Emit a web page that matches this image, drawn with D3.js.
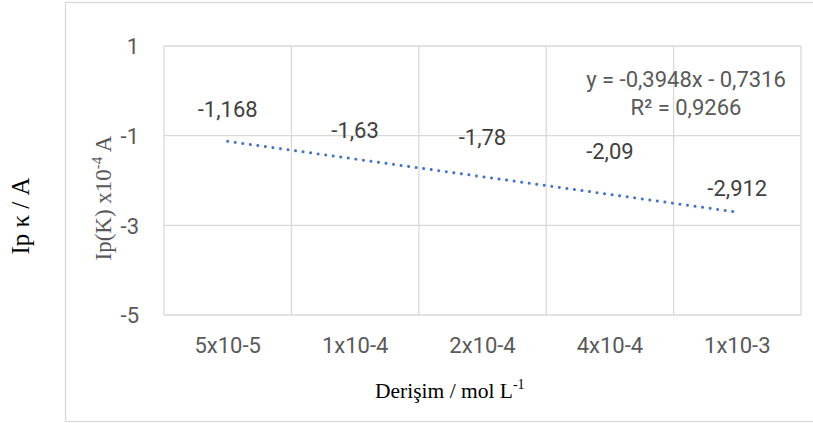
<!DOCTYPE html>
<html>
<head>
<meta charset="utf-8">
<script src="https://cdn.jsdelivr.net/npm/d3@7"></script>
<style>
  html, body { margin: 0; padding: 0; background: #fff; }
  svg { display: block; }
</style>
</head>
<body>
<svg id="chart" width="813" height="423"></svg>
<script>
// Concentration categories and measured peak currents (x10^-4 A)
const categories = ["5x10-5", "1x10-4", "2x10-4", "4x10-4", "1x10-3"];
const peakCurrent = [-1.168, -1.63, -1.78, -2.09, -2.912];
const labelText = ["-1,168", "-1,63", "-1,78", "-2,09", "-2,912"];
const yTicks = [1, -1, -3, -5];

const svg = d3.select("#chart");
const plot = { left: 164, right: 801, top: 46, bottom: 315 };

const gridColor = "#d9d9d9";
const sans = "Roboto, 'Noto Sans', sans-serif";
const serif = "'Liberation Serif', 'Times New Roman', serif";

// Outer chart frame
svg.append("rect")
  .attr("x", 65.5).attr("y", 2.5)
  .attr("width", 800).attr("height", 419)
  .attr("fill", "none").attr("stroke", gridColor).attr("stroke-width", 1.3);

const x = d3.scaleBand().domain(categories).range([plot.left, plot.right]).padding(0);
const y = d3.scaleLinear().domain([-5, 1]).range([plot.bottom, plot.top]);

// Horizontal gridlines
svg.append("g").selectAll("line").data(yTicks).join("line")
  .attr("x1", plot.left).attr("x2", plot.right)
  .attr("y1", d => y(d)).attr("y2", d => y(d))
  .attr("stroke", gridColor).attr("stroke-width", 1.3);

// Vertical gridlines at category boundaries
const bounds = categories.map(c => x(c)).concat([plot.right]);
svg.append("g").selectAll("line").data(bounds).join("line")
  .attr("x1", d => d).attr("x2", d => d)
  .attr("y1", plot.top).attr("y2", plot.bottom)
  .attr("stroke", gridColor).attr("stroke-width", 1.3);

// Y axis tick labels
const yAxis = d3.axisLeft(y).tickValues(yTicks).tickSize(0).tickPadding(0)
  .tickFormat(d => String(d));
const gy = svg.append("g").attr("transform", `translate(139,0)`).call(yAxis);
gy.select(".domain").remove();
gy.selectAll("text")
  .attr("font-family", sans).attr("font-size", 22).attr("fill", "#595959")
  .attr("dy", "0.36em");

// X axis category labels
const xAxis = d3.axisBottom(x).tickSize(0).tickPadding(0);
const gx = svg.append("g").attr("transform", `translate(0,${plot.bottom})`).call(xAxis);
gx.select(".domain").remove();
gx.selectAll("text")
  .attr("font-family", sans).attr("font-size", 22).attr("fill", "#595959")
  .attr("dy", null).attr("y", 37.5);

// Linear trendline from least squares over category index 1..n
const xs = peakCurrent.map((_, i) => i + 1);
const mx = d3.mean(xs), my = d3.mean(peakCurrent);
const slope = d3.sum(xs, (v, i) => (v - mx) * (peakCurrent[i] - my)) / d3.sum(xs, v => (v - mx) ** 2);
const intercept = my - slope * mx;
const ssRes = d3.sum(xs, (v, i) => (peakCurrent[i] - (slope * v + intercept)) ** 2);
const ssTot = d3.sum(peakCurrent, v => (v - my) ** 2);
const r2 = 1 - ssRes / ssTot;

const xc = i => x(categories[i]) + x.bandwidth() / 2;
const trend = [0, categories.length - 1].map(i => [xc(i), y(slope * (i + 1) + intercept)]);
svg.append("path")
  .attr("d", d3.line()(trend))
  .attr("fill", "none").attr("stroke", "#4472c4")
  .attr("stroke-width", 3).attr("stroke-linecap", "round")
  .attr("stroke-dasharray", "0.01 7.6");

// Data labels above each point
svg.append("g").selectAll("text").data(peakCurrent).join("text")
  .attr("x", (d, i) => xc(i))
  .attr("y", d => y(d) - 25.8)
  .attr("text-anchor", "middle")
  .attr("font-family", sans).attr("font-size", 22).attr("fill", "#404040")
  .text((d, i) => labelText[i]);

// Trendline equation
const fmt = v => v.toFixed(4).replace(".", ",");
const eq = svg.append("text")
  .attr("text-anchor", "middle")
  .attr("font-family", sans).attr("font-size", 22).attr("fill", "#595959");
eq.append("tspan").attr("x", 686).attr("y", 87)
  .text(`y = ${fmt(slope)}x - ${fmt(-intercept)}`);
eq.append("tspan").attr("x", 686).attr("y", 115)
  .text(`R² = ${fmt(r2)}`);

// Inner y axis title
const yTitle = svg.append("text")
  .attr("transform", "translate(111,198) rotate(-90)")
  .attr("text-anchor", "middle")
  .attr("font-family", serif).attr("font-size", 23).attr("fill", "#595959");
yTitle.append("tspan").text("Ip(K) x10");
yTitle.append("tspan").attr("font-size", 15).attr("dy", -9).text("-4");
yTitle.append("tspan").attr("dy", 9).text(" A");

// Outer y axis title
svg.append("text")
  .attr("transform", "translate(29,216) rotate(-90)")
  .attr("text-anchor", "middle")
  .attr("font-family", serif).attr("font-size", 25).attr("fill", "#000")
  .text("Ip κ / A");

// X axis title
const xTitle = svg.append("text")
  .attr("x", 375).attr("y", 398)
  .attr("font-family", serif).attr("font-size", 21.5).attr("fill", "#000");
xTitle.append("tspan").text("Derişim / mol L");
xTitle.append("tspan").attr("font-size", 14).attr("dy", -9).text("-1");
</script>
</body>
</html>
